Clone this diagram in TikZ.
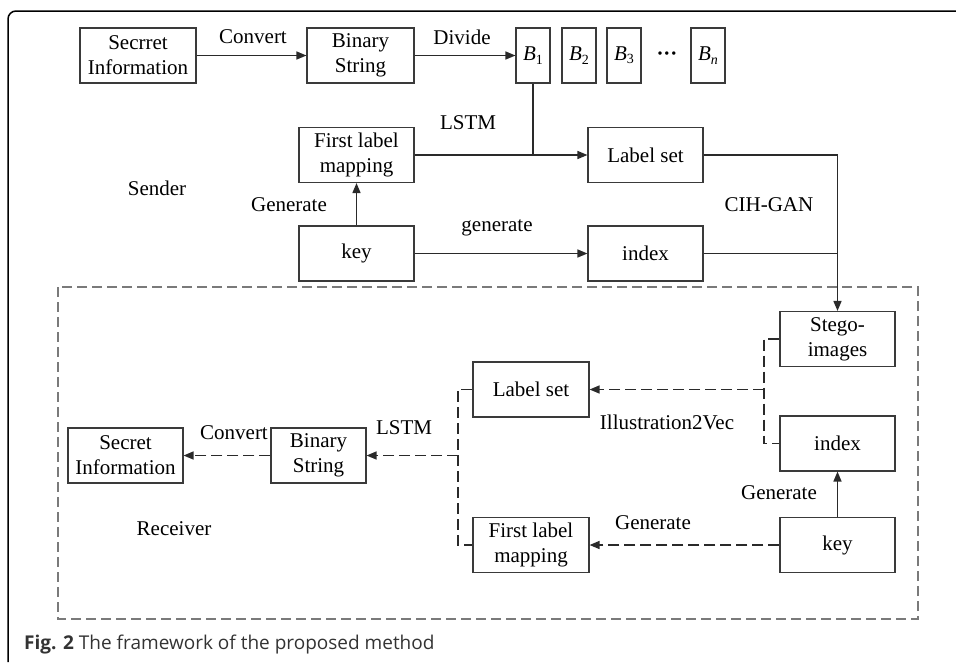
\documentclass[tikz,border=0pt]{standalone}
\usepackage{fontspec}
\setmainfont{Liberation Serif}
\newfontfamily\capfont{Open Sans}
\usetikzlibrary{arrows.meta}
\definecolor{boxgray}{HTML}{3A3A3A}
\definecolor{linegray}{HTML}{2A2A2A}
\definecolor{framegray}{HTML}{7A7A7A}
\newcommand{\Bsub}[1]{\textit{B}\raisebox{-0.35ex}{\fontsize{14}{14}\selectfont #1}}
\tikzset{
  box/.style={draw=boxgray, line width=1.1pt, align=center, inner sep=0pt,
              minimum width=115pt, minimum height=55pt},
  bbox/.style={box, minimum width=34pt},
  lbl/.style={inner sep=0pt, anchor=center},
  link/.style={draw=linegray, line width=1.5pt, -{Triangle[length=10pt,width=8pt]}},
  plain/.style={draw=linegray, line width=1.5pt},
  dlink/.style={link, dash pattern=on 11pt off 5pt},
  dplain/.style={plain, dash pattern=on 11pt off 5pt},
}
\begin{document}
\begin{tikzpicture}[x=1pt, y=-1pt, font=\fontsize{21}{25}\selectfont]
\useasboundingbox (0,0) rectangle (956,662);

% figure frame
\draw[line width=1.5pt, rounded corners=8pt] (956,11) -- (8,11) -- (8,662);

% receiver region
\draw[framegray, line width=1.3pt, dash pattern=on 10pt off 5pt] (58,287) rectangle (918,619);

% ---------- sender ----------
\node[box, minimum width=116pt] (si1) at (138,55.5) {Secrret\\Information};
\node[box, minimum width=107pt] (bs1) at (360.5,55.5) {Binary\\String};
\node[bbox] (b1) at (533,55.5) {\Bsub{1}};
\node[bbox] (b2) at (579,55.5) {\Bsub{2}};
\node[bbox] (b3) at (624,55.5) {\Bsub{3}};
\node[lbl] (dots) at (667,56) {\textbf{···}};
\node[bbox] (bn) at (708,55.5) {\textit{B}\raisebox{-0.35ex}{\fontsize{14}{14}\selectfont\itshape n}};
\node[box] (flm1) at (356.5,155) {First label\\mapping};
\node[box] (ls1) at (645.5,155) {Label set};
\node[box] (key1) at (356.5,253.5) {key};
\node[box] (idx1) at (645.5,253.5) {index};
\node[box] (stego) at (837.5,339) {Stego-\\images};

\node[lbl] at (253,37) {Convert};
\node[lbl] at (462,37) {Divide};
\node[lbl] at (468,123) {LSTM};
\node[lbl] at (157,188) {Sender};
\node[lbl] at (289,205) {Generate};
\node[lbl] at (497,228) {generate};
\node[lbl] at (769,205) {CIH-GAN};

\draw[link] (si1.east) -- (bs1.west);
\draw[link] (bs1.east) -- (b1.west);
\draw[plain] (b1.south) -- (b1.south |- ls1.west);
\draw[link] (flm1.east) -- (ls1.west);
\draw[link] (key1.north) -- (flm1.south);
\draw[link] (key1.east) -- (idx1.west);
\draw[link] (ls1.east) -| (stego.north);
\draw[plain] (idx1.east) -- (stego.north |- idx1.east);

% ---------- receiver ----------
\node[box, minimum width=115pt] (si2) at (125.5,455.5) {Secret\\Information};
\node[box, minimum width=95pt] (bs2) at (318.5,455.5) {Binary\\String};
\node[box, minimum width=116pt] (ls2) at (531,389.5) {Label set};
\node[box, minimum width=116pt] (flm2) at (531,545) {First label\\mapping};
\node[box] (idx2) at (837.5,443.5) {index};
\node[box] (key2) at (837.5,545) {key};

\coordinate (jr) at (764,0);
\coordinate (jl) at (458,0);

\node[lbl] at (234,433) {Convert};
\node[lbl] at (404,428) {LSTM};
\node[lbl] at (174,529) {Receiver};
\node[lbl] at (667,422) {Illustration2Vec};
\node[lbl] at (779,493) {Generate};
\node[lbl] at (653,523) {Generate};

\draw[dplain] (stego.west) -- (jr |- stego.west) -- (jr |- idx2.west) -- (idx2.west);
\draw[dlink] (jr |- ls2.east) -- (ls2.east);
\draw[link] (key2.north) -- (idx2.south);
\draw[dlink] (key2.west) -- (flm2.east);
\draw[dplain] (ls2.west) -- (jl |- ls2.west) -- (jl |- flm2.west) -- (flm2.west);
\draw[dlink] (jl |- bs2.east) -- (bs2.east);
\draw[dlink] (bs2.west) -- (si2.east);

% caption
\node[anchor=west, inner sep=0pt, font=\capfont\fontsize{19}{23}\selectfont, text=black!80] (cap) at (24,645)
  {\textbf{Fig. 2} The framework of the proposed method};
\end{tikzpicture}
\end{document}
